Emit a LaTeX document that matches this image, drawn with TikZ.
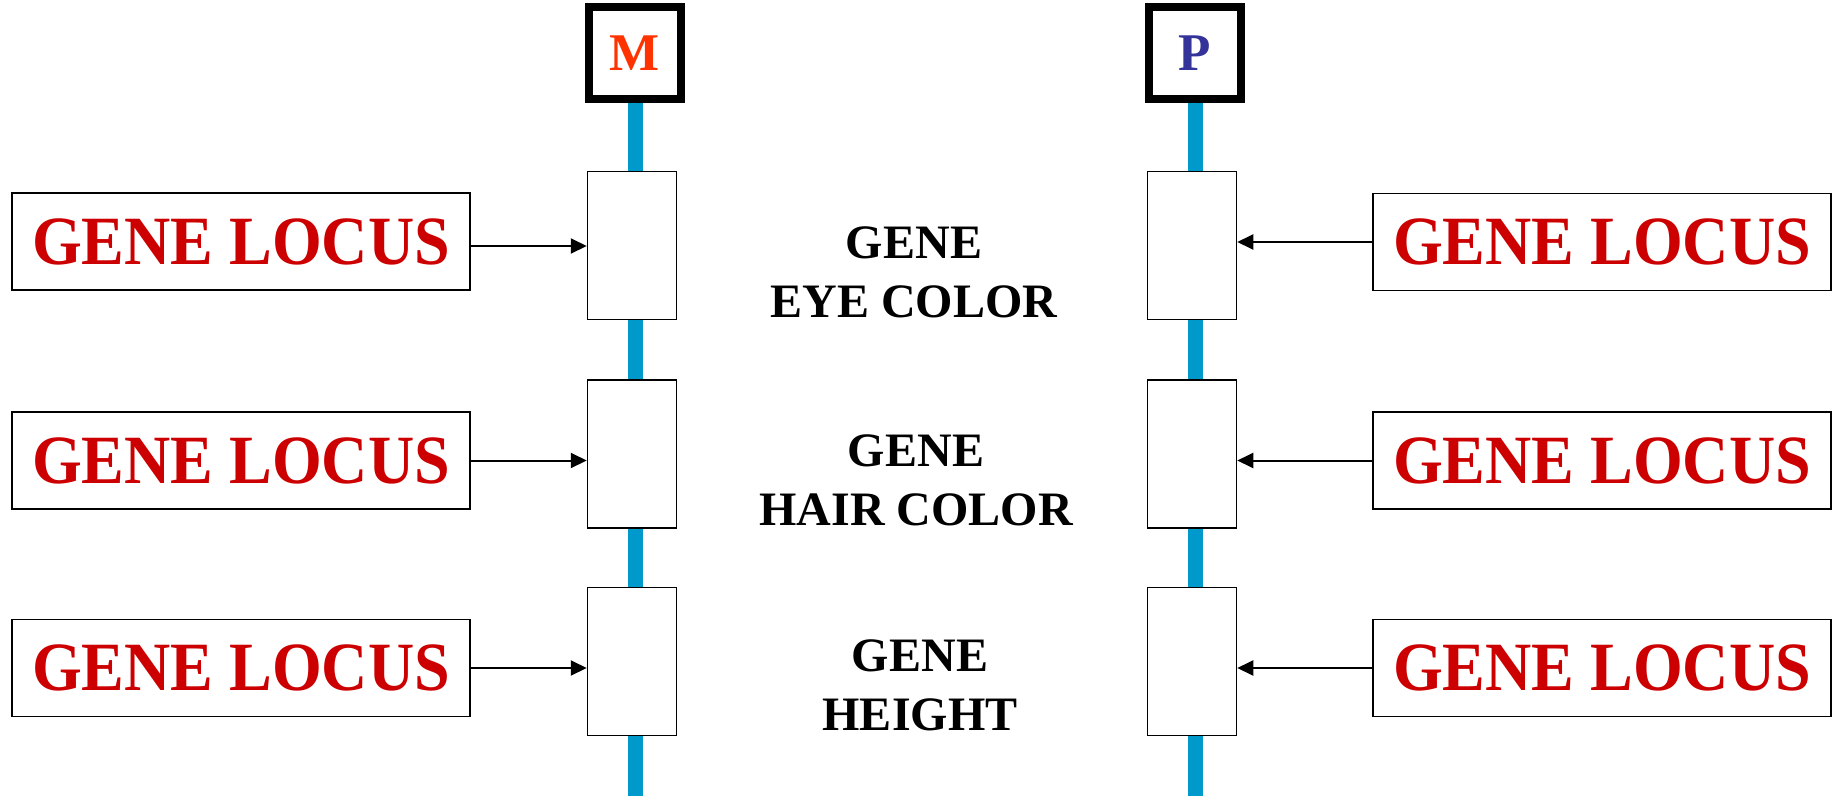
\documentclass[tikz,border=0pt]{standalone}
\usepackage{fontspec}
\setmainfont{Liberation Serif}
\usetikzlibrary{arrows.meta}
\definecolor{chromblue}{HTML}{0099CC}
\definecolor{genered}{HTML}{CC0000}
\definecolor{mred}{HTML}{FF3300}
\definecolor{pblue}{HTML}{333399}
\begin{document}
\begin{tikzpicture}[x=1pt,y=-1pt,
  chrom/.style={line width=15pt, draw=chromblue},
  locusbox/.style={draw, line width=1.5pt, fill=white, minimum width=89pt, minimum height=148pt, inner sep=0pt},
  labelbox/.style={draw, line width=1.5pt, minimum width=458pt, minimum height=97pt, inner sep=0pt, text=genered, font=\fontsize{64}{64}\selectfont\bfseries},
  parent/.style={draw, line width=8pt, fill=white, minimum size=92pt, inner sep=0pt, font=\fontsize{53}{53}\selectfont\bfseries},
  arr/.style={-{Triangle[length=16pt,width=15pt]}, line width=2pt},
  trait/.style={align=center, font=\fontsize{48}{59}\selectfont\bfseries}
]
\useasboundingbox (0,0) rectangle (1835,800);
% parents
\node[parent, text=mred] (M) at (635,53) {M};
\node[parent, text=pblue] (P) at (1195,53) {P};
\coordinate (Mend) at (635,796);
\coordinate (Pend) at (1195,796);
\draw[chrom] (M.south) -- (Mend);
\draw[chrom] (P.south) -- (Pend);
% loci
\node[locusbox] (A1) at (632,245.5) {};
\node[locusbox] (A2) at (632,454) {};
\node[locusbox] (A3) at (632,661.5) {};
\node[locusbox] (B1) at (1192,245.5) {};
\node[locusbox] (B2) at (1192,454) {};
\node[locusbox] (B3) at (1192,661.5) {};
% labels
\node[labelbox] (L1) at (241,241.5) {\scalebox{1}[1.08]{GENE LOCUS}};
\node[labelbox] (L2) at (241,460.5) {\scalebox{1}[1.08]{GENE LOCUS}};
\node[labelbox] (L3) at (241,668) {\scalebox{1}[1.08]{GENE LOCUS}};
\node[labelbox] (R1) at (1602,242) {\scalebox{1}[1.08]{GENE LOCUS}};
\node[labelbox] (R2) at (1602,460.5) {\scalebox{1}[1.08]{GENE LOCUS}};
\node[labelbox] (R3) at (1602,668) {\scalebox{1}[1.08]{GENE LOCUS}};
% arrows
\draw[arr] ([yshift=-4.5pt]L1.east) -- ([yshift=-4.5pt]L1.east -| A1.west);
\draw[arr] (L2.east) -- (L2.east -| A2.west);
\draw[arr] (L3.east) -- (L3.east -| A3.west);
\draw[arr] (R1.west) -- (R1.west -| B1.east);
\draw[arr] (R2.west) -- (R2.west -| B2.east);
\draw[arr] (R3.west) -- (R3.west -| B3.east);
% traits
\node[trait] (T1) at (914,272) {GENE\\EYE COLOR};
\node[trait] (T2) at (916,480) {GENE\\HAIR COLOR};
\node[trait] (T3) at (920,685) {GENE\\HEIGHT};
\end{tikzpicture}
\end{document}
